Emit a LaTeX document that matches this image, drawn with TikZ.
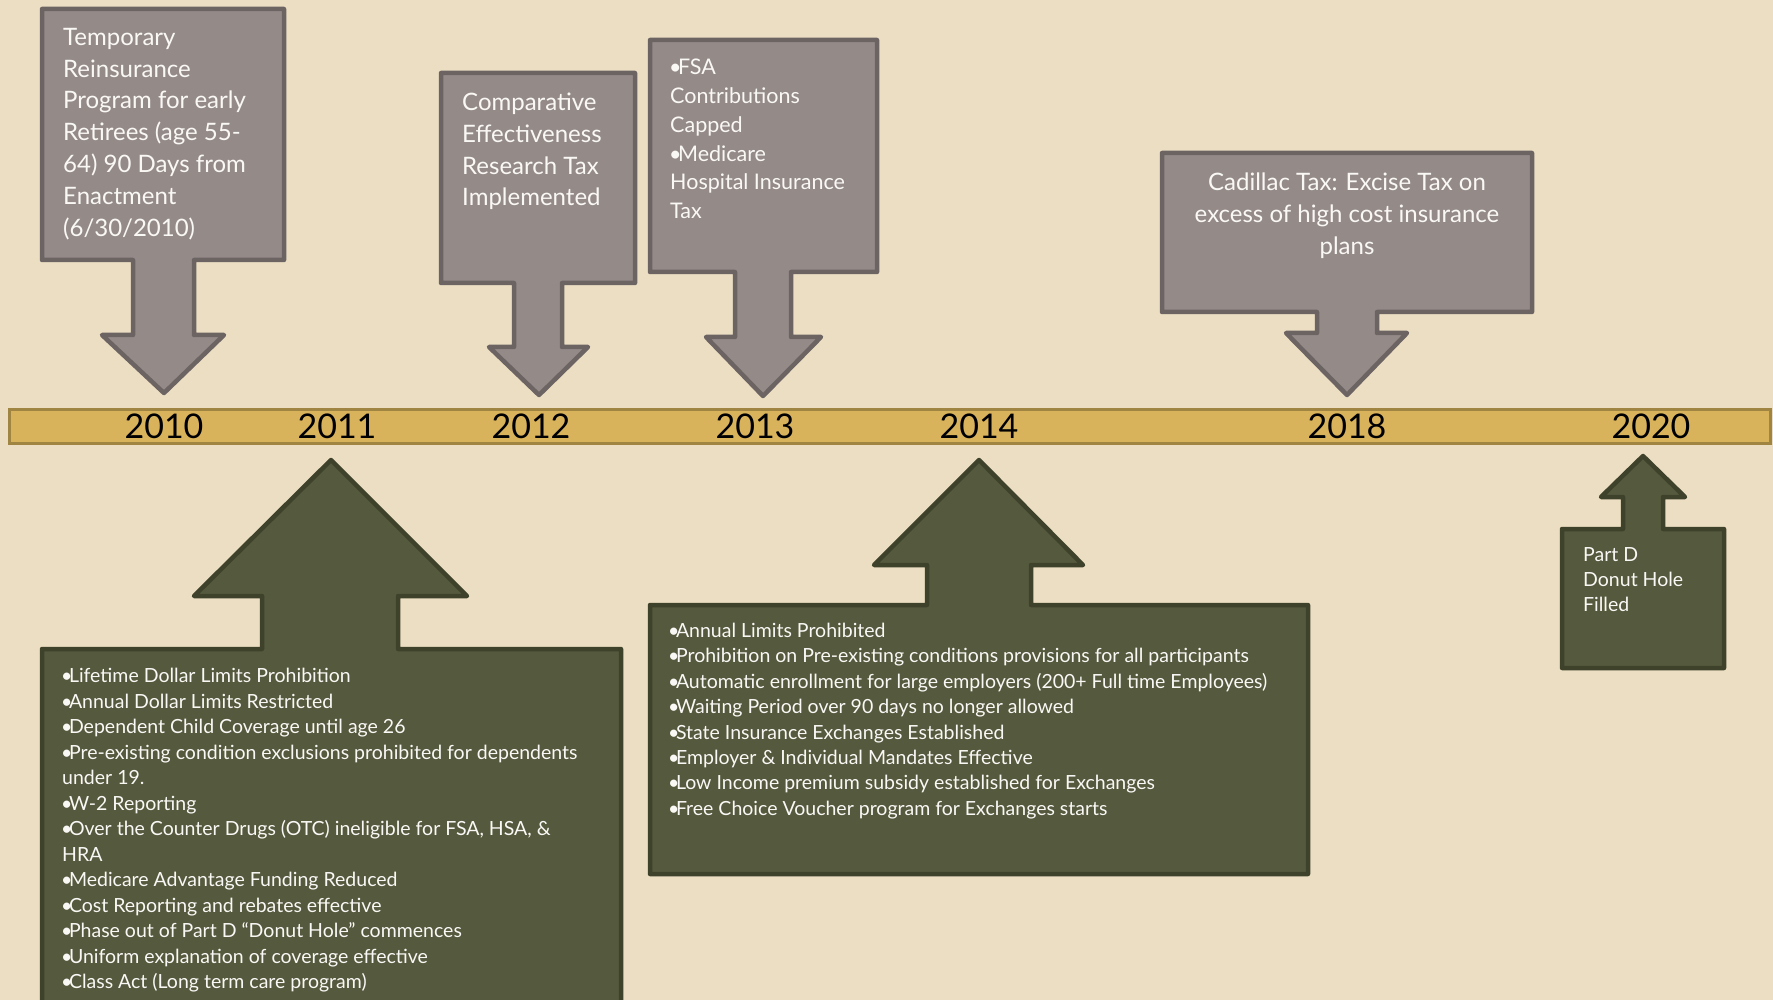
\documentclass[tikz,border=0pt]{standalone}
\usepackage{fontspec}
\setmainfont{Lato}
\definecolor{bgc}{RGB}{235,222,194}
\definecolor{grayfill}{RGB}{148,139,137}
\definecolor{grayline}{RGB}{108,99,99}
\definecolor{greenfill}{RGB}{85,89,61}
\definecolor{greenline}{RGB}{62,66,42}
\definecolor{barfill}{RGB}{217,178,92}
\definecolor{barline}{RGB}{160,133,66}
\definecolor{txtc}{RGB}{250,248,245}
\newcommand\mybul{\kern-1pt•\kern-3.5pt}
\tikzset{
  graycall/.style={fill=grayfill, draw=grayline, line width=4.5pt, line join=round},
  greencall/.style={fill=greenfill, draw=greenline, line width=4.5pt, line join=round},
  calltext/.style={text=txtc, inner sep=0pt, align=left, anchor=north west},
  yearlbl/.style={text=black, inner sep=0pt, anchor=center, font=\fontsize{34}{40}\selectfont},
}
\begin{document}
\begin{tikzpicture}[x=1pt,y=-1pt]
\useasboundingbox (0,0) rectangle (1773,1000);
\begin{scope}
\clip (0,0) rectangle (1773,1000);
\fill[bgc] (0,0) rectangle (1773,1000);

% timeline bar
\draw[fill=barfill, draw=barline, line width=3pt] (9,409) rectangle (1770,443);

% down callouts (gray)
\draw[graycall] (42,9) -- (284,9) -- (284,260) -- (194,260) -- (194,335) -- (224,335) -- (164,393) -- (102,335) -- (133,335) -- (133,260) -- (42,260) -- cycle;
\draw[graycall] (441,73) -- (635,73) -- (635,283) -- (562,283) -- (562,347) -- (588,347) -- (539,395) -- (489,347) -- (514,347) -- (514,283) -- (441,283) -- cycle;
\draw[graycall] (650,40) -- (877,40) -- (877,272) -- (791,272) -- (791,337) -- (821,337) -- (763,396) -- (706,337) -- (735,337) -- (735,272) -- (650,272) -- cycle;
\draw[graycall] (1162,153) -- (1532,153) -- (1532,312) -- (1377,312) -- (1377,333) -- (1407,333) -- (1347,395) -- (1286,333) -- (1317,333) -- (1317,312) -- (1162,312) -- cycle;

% up callouts (green)
\draw[greencall] (42,1020) -- (42,649) -- (262,649) -- (262,596) -- (194,596) -- (331,460) -- (467,596) -- (398,596) -- (398,649) -- (621,649) -- (621,1020);
\draw[greencall] (650,874) -- (650,605) -- (927,605) -- (927,565) -- (874,565) -- (979,460) -- (1083,565) -- (1031,565) -- (1031,605) -- (1308,605) -- (1308,874) -- cycle;
\draw[greencall] (1562,668) -- (1562,529) -- (1623,529) -- (1623,497) -- (1601,497) -- (1643,456) -- (1685,497) -- (1663,497) -- (1663,529) -- (1724,529) -- (1724,668) -- cycle;
\end{scope}

% years
\node[yearlbl] (y2010) at (164,426) {2010};
\node[yearlbl] (y2011) at (337,426) {2011};
\node[yearlbl] (y2012) at (531,426) {2012};
\node[yearlbl] (y2013) at (755,426) {2013};
\node[yearlbl] (y2014) at (979,426) {2014};
\node[yearlbl] (y2018) at (1347,426) {2018};
\node[yearlbl] (y2020) at (1651,426) {2020};

% gray texts
\node[calltext, font=\fontsize{24}{31.8}\selectfont] (t2010) at (63,28)
 {Temporary\\Reinsurance\\Program for early\\Retirees (age 55-\\64) 90 Days from\\Enactment\\(6/30/2010)};
\node[calltext, font=\fontsize{24}{31.7}\selectfont] (t2012) at (462,93)
 {Comparative\\Effectiveness\\Research Tax\\Implemented};
\node[calltext, font=\fontsize{21.5}{28.8}\selectfont] (t2013) at (670,59)
 {\mybul FSA\\Contributions\\Capped\\\mybul Medicare\\Hospital Insurance\\Tax};
\node[calltext, anchor=north, align=center, font=\fontsize{24}{31.7}\selectfont] (t2018) at (1347,173)
 {Cadillac Tax: Excise Tax on\\excess of high cost insurance\\plans};

% green texts
\node[calltext, font=\fontsize{19.5}{25.5}\selectfont] (t2011) at (62,668)
 {\mybul Lifetime Dollar Limits Prohibition\\
  \mybul Annual Dollar Limits Restricted\\
  \mybul Dependent Child Coverage until age 26\\
  \mybul Pre-existing condition exclusions prohibited for dependents\\
  under 19.\\
  \mybul W-2 Reporting\\
  \mybul Over the Counter Drugs (OTC) ineligible for FSA, HSA, \&\\
  HRA\\
  \mybul Medicare Advantage Funding Reduced\\
  \mybul Cost Reporting and rebates effective\\
  \mybul Phase out of Part D “Donut Hole” commences\\
  \mybul Uniform explanation of coverage effective\\
  \mybul Class Act (Long term care program)};
\node[calltext, font=\fontsize{19.5}{25.4}\selectfont] (t2014) at (669,623)
 {\mybul Annual Limits Prohibited\\
  \mybul Prohibition on Pre-existing conditions provisions for all participants\\
  \mybul Automatic enrollment for large employers (200+ Full time Employees)\\
  \mybul Waiting Period over 90 days no longer allowed\\
  \mybul State Insurance Exchanges Established\\
  \mybul Employer \& Individual Mandates Effective\\
  \mybul Low Income premium subsidy established for Exchanges\\
  \mybul Free Choice Voucher program for Exchanges starts};
\node[calltext, font=\fontsize{19.5}{25}\selectfont] (t2020) at (1583,547)
 {Part D\\Donut Hole\\Filled};
\end{tikzpicture}
\end{document}
